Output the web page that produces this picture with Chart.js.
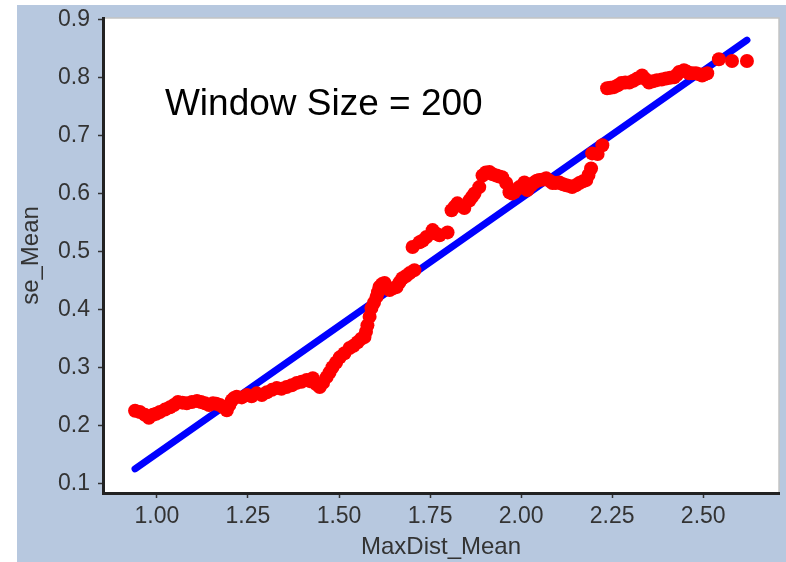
<!DOCTYPE html>
<html>
<head>
<meta charset="utf-8">
<script src="https://cdn.jsdelivr.net/npm/chart.js@4/dist/chart.umd.min.js"></script>
<style>
    body { margin: 0; background: #fff; }
    #wrap { position: relative; width: 786px; height: 562px; }
    #panel { position: absolute; left: 17px; top: 5px; right: 0; bottom: 0; background: #b7c8df; }
    canvas { position: absolute; left: 0; top: 0; }
</style>
</head>
<body>
<div id="wrap">
    <div id="panel"></div>
    <canvas id="chart" width="786" height="562"></canvas>
</div>
<script>
const maxDist = [0.940, 0.953, 0.967, 0.978, 0.989, 0.998, 1.008, 1.022, 1.036, 1.047, 1.058, 1.070, 1.082, 1.096, 1.110,
    1.121, 1.132, 1.143, 1.154, 1.163, 1.173, 1.183, 1.192, 1.199, 1.206, 1.212, 1.219, 1.233, 1.247, 1.260,
    1.274, 1.288, 1.302, 1.316, 1.329, 1.342, 1.356, 1.370, 1.384, 1.397, 1.411, 1.420, 1.428, 1.437, 1.447,
    1.456, 1.466, 1.474, 1.482, 1.492, 1.502, 1.515, 1.529, 1.540, 1.551, 1.561, 1.570, 1.574, 1.578, 1.584,
    1.589, 1.596, 1.603, 1.607, 1.611, 1.618, 1.625, 1.639, 1.648, 1.658, 1.666, 1.674, 1.684, 1.694, 1.707,
    1.702, 1.721, 1.730, 1.740, 1.757, 1.766, 1.776, 1.798, 1.809, 1.817, 1.825, 1.844, 1.858, 1.865, 1.872,
    1.885, 1.894, 1.903, 1.913, 1.922, 1.932, 1.940, 1.948, 1.959, 1.968, 1.975, 1.981, 1.988, 1.995, 2.009,
    2.017, 2.026, 2.036, 2.043, 2.050, 2.060, 2.069, 2.078, 2.086, 2.095, 2.105, 2.115, 2.124, 2.132, 2.140,
    2.150, 2.160, 2.170, 2.179, 2.185, 2.192, 2.195, 2.210, 2.223, 2.236, 2.245, 2.255, 2.265, 2.275, 2.286,
    2.297, 2.308, 2.319, 2.332, 2.341, 2.351, 2.362, 2.373, 2.386, 2.398, 2.409, 2.420, 2.427, 2.434, 2.447,
    2.454, 2.461, 2.470, 2.480, 2.489, 2.497, 2.504, 2.511, 2.543, 2.579, 2.620];
const seMean = [0.226, 0.224, 0.219, 0.214, 0.219, 0.221, 0.224, 0.228, 0.232, 0.236, 0.241, 0.240, 0.239, 0.241, 0.243,
    0.241, 0.239, 0.236, 0.239, 0.238, 0.236, 0.232, 0.227, 0.236, 0.244, 0.248, 0.250, 0.249, 0.253, 0.251,
    0.256, 0.253, 0.258, 0.262, 0.265, 0.264, 0.267, 0.270, 0.274, 0.276, 0.279, 0.277, 0.282, 0.272, 0.267,
    0.274, 0.284, 0.292, 0.301, 0.309, 0.318, 0.325, 0.334, 0.338, 0.344, 0.350, 0.353, 0.362, 0.373, 0.388,
    0.403, 0.412, 0.422, 0.430, 0.439, 0.444, 0.446, 0.434, 0.437, 0.439, 0.447, 0.454, 0.458, 0.463, 0.468,
    0.508, 0.516, 0.519, 0.525, 0.537, 0.531, 0.528, 0.533, 0.571, 0.577, 0.583, 0.575, 0.588, 0.594, 0.600,
    0.611, 0.631, 0.636, 0.637, 0.633, 0.631, 0.629, 0.628, 0.618, 0.602, 0.600, 0.602, 0.607, 0.611, 0.619,
    0.606, 0.613, 0.619, 0.622, 0.623, 0.624, 0.626, 0.622, 0.618, 0.618, 0.619, 0.616, 0.614, 0.613, 0.611,
    0.614, 0.618, 0.621, 0.623, 0.632, 0.643, 0.669, 0.668, 0.683, 0.781, 0.782, 0.783, 0.786, 0.790, 0.791,
    0.791, 0.794, 0.798, 0.803, 0.797, 0.791, 0.793, 0.795, 0.796, 0.798, 0.799, 0.800, 0.804, 0.809, 0.812,
    0.810, 0.807, 0.807, 0.807, 0.805, 0.803, 0.805, 0.807, 0.831, 0.828, 0.828];

// fitted line end points
const fitX = [0.94, 2.62];
const fitY = [0.126, 0.864];

const xTicks = [1.00, 1.25, 1.50, 1.75, 2.00, 2.25, 2.50];
const yTicks = [0.1, 0.2, 0.3, 0.4, 0.5, 0.6, 0.7, 0.8, 0.9];

const note = "Window Size = 200";
const notePos = {x: 1.022, y: 0.7346};

const font = "'Liberation Sans', Arial, sans-serif";

const plotBg = {
    id: "plotBg",
    beforeDraw(chart) {
        const {ctx, chartArea: a} = chart;
        ctx.save();
        ctx.fillStyle = "#fff";
        ctx.fillRect(a.left, a.top, a.right - a.left, a.bottom - a.top);
        ctx.strokeStyle = "#c4c4c4";
        ctx.lineWidth = 1.5;
        ctx.strokeRect(a.left, a.top, a.right - a.left, a.bottom - a.top);
        ctx.restore();
    },
    afterDatasetsDraw(chart) {
        const {ctx, scales} = chart;
        ctx.save();
        ctx.font = "37px " + font;
        ctx.fillStyle = "#000";
        ctx.textBaseline = "alphabetic";
        ctx.fillText(note, scales.x.getPixelForValue(notePos.x), scales.y.getPixelForValue(notePos.y));
        ctx.restore();
    }
};

function axis(min, max, ticks, digits, title, size, pad, lh) {
    return {
        type: "linear",
        min, max,
        afterBuildTicks: s => { s.ticks = ticks.map(v => ({value: v})); },
        afterFit: s => { if (s.isHorizontal()) s.height = size; else s.width = size; },
        border: {color: "#222", width: 3},
        grid: {drawOnChartArea: false, color: "#333", tickLength: 5, tickWidth: 1.5},
        ticks: {
            color: "#333",
            font: {family: font, size: 23, lineHeight: lh},
            padding: pad,
            callback: v => v.toFixed(digits)
        },
        title: {
            display: true,
            text: title,
            color: "#333",
            font: {family: font, size: 24},
            padding: {top: 0, bottom: 0}
        }
    };
}

new Chart("chart", {
    type: "scatter",
    data: {
        datasets: [{
            data: maxDist.map((x, i) => ({x, y: seMean[i]})),
            backgroundColor: "#ff0000",
            borderWidth: 0,
            pointRadius: 7
        }, {
            data: fitX.map((x, i) => ({x, y: fitY[i]})),
            showLine: true,
            borderColor: "#0000ff",
            borderWidth: 7,
            borderCapStyle: "round",
            pointRadius: 0
        }]
    },
    options: {
        responsive: false,
        animation: false,
        layout: {padding: {left: 17, top: 18, right: 6, bottom: 0}},
        plugins: {legend: {display: false}, tooltip: {enabled: false}},
        scales: {
            x: axis(0.852, 2.708, xTicks, 2, "MaxDist_Mean", 69, 5, 1.2),
            y: axis(0.0845, 0.902, yTicks, 1, "se_Mean", 86, 8, 0.8)
        }
    },
    plugins: [plotBg]
});
</script>
</body>
</html>
